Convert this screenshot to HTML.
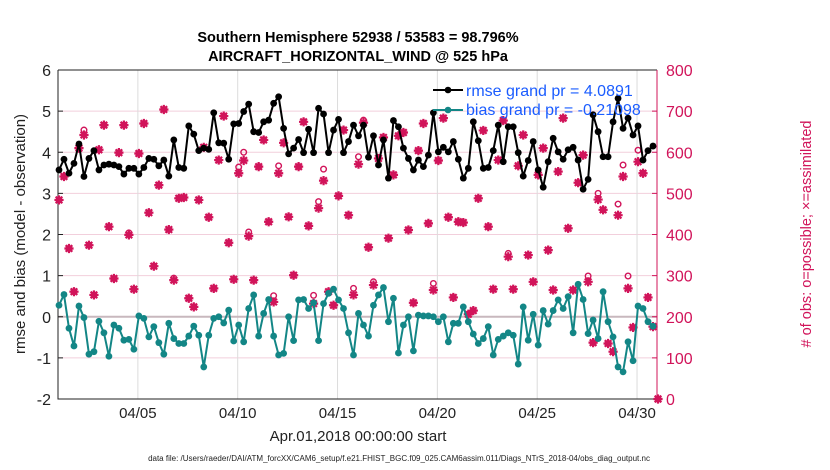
<!DOCTYPE html>
<html><head><meta charset="utf-8"><style>
body{margin:0;background:#fff;}
svg{display:block;font-family:"Liberation Sans",sans-serif;}
</style></head><body>
<svg id="chart" width="830" height="470" viewBox="0 0 830 470">
<text x="358" y="42" text-anchor="middle" font-size="14.5" font-weight="bold">Southern Hemisphere 52938 / 53583 = 98.796%</text>
<text x="358" y="61" text-anchor="middle" font-size="14.5" font-weight="bold">AIRCRAFT_HORIZONTAL_WIND @ 525 hPa</text>
<g id="grid"></g>
<g id="axes"></g>
<g id="obs"></g>
<g id="lines"></g>
<g id="legend">
<line x1="433" y1="90" x2="463" y2="90" stroke="#000" stroke-width="2"/>
<circle cx="448" cy="90" r="3.3" fill="#000"/>
<text x="466" y="96" font-size="16" fill="#1a5cff">rmse grand pr = 4.0891</text>
<line x1="433" y1="110" x2="463" y2="110" stroke="#138686" stroke-width="2"/>
<circle cx="448" cy="110" r="3.3" fill="#138686"/>
<text x="466" y="115" font-size="16" fill="#1a5cff">bias grand pr = -0.21098</text>
</g>
<text x="358" y="441" text-anchor="middle" font-size="15" fill="#222">Apr.01,2018 00:00:00 start</text>
<text x="399" y="461" text-anchor="middle" font-size="8" fill="#222">data file: /Users/raeder/DAI/ATM_forcXX/CAM6_setup/f.e21.FHIST_BGC.f09_025.CAM6assim.011/Diags_NTrS_2018-04/obs_diag_output.nc</text>
<text transform="translate(25,234) rotate(-90)" text-anchor="middle" font-size="15" fill="#222">rmse and bias (model - observation)</text>
<text transform="translate(811,234) rotate(-90)" text-anchor="middle" font-size="14.5" fill="#d1145a"># of obs: o=possible; ×=assimilated</text>
</svg>
<script>
const rmse=[3.57,3.83,3.49,3.73,4.2,3.41,3.85,4.04,3.57,3.69,3.71,3.69,3.65,3.47,3.61,3.61,3.47,3.63,3.85,3.83,3.67,3.81,3.42,4.3,3.63,3.61,4.64,4.44,4.04,4.1,4.07,4.96,4.23,4.22,3.83,4.69,4.7,4.99,5.17,
4.5,4.48,4.74,4.78,5.19,5.35,4.58,3.96,4.1,4.31,3.99,4.56,3.99,5.07,4.93,3.99,4.54,4.8,3.99,4.26,4.66,4.4,4.66,3.88,4.4,3.69,4.3,3.37,4.77,4.62,4.1,3.85,3.57,3.81,3.65,3.93,4.96,4.01,
4.12,4.01,4.26,3.83,3.37,3.61,4.74,4.28,3.61,3.63,4.04,4.66,3.77,4.62,4.62,3.99,3.42,3.8,4.26,3.57,3.15,3.77,4.34,4.01,3.83,4.06,4.12,3.81,3.1,3.34,4.91,4.5,3.89,3.89,4.74,5.31,4.58,4.83,4.42,4.64,3.81,4.04,4.15];
const bias=[0.28,0.54,-0.28,-0.71,0.26,-0.02,-0.91,-0.85,-0.11,-0.39,-0.96,-0.2,-0.28,-0.57,-0.55,-0.79,0.02,-0.04,-0.49,-0.24,-0.63,-0.91,-0.16,-0.53,-0.65,-0.65,-0.47,-0.23,-0.45,-1.22,-0.45,-0.04,0,-0.15,0.16,-0.59,-0.2,-0.61,0.2,
0.53,-0.47,0.08,0.42,-0.47,-0.93,-0.89,0,-0.58,0.41,0.42,0.2,0.34,-0.58,0.32,0.57,0.67,0.41,0.2,-0.39,-0.93,0.08,-0.2,-0.47,0.28,0.53,0.71,-0.12,0.45,-0.88,-0.2,0,-0.83,0.04,0.02,0.02,0,-0.12,
0,-0.61,-0.16,-0.16,0.24,-0.12,-0.42,-0.65,-0.53,-0.24,-0.93,-0.55,-0.47,-0.39,-0.45,-1.15,0.24,-0.57,0.06,-0.69,0.15,-0.18,0.15,0.41,0.2,0.49,-0.39,0.79,0.42,-0.41,-0.08,-0.53,0.61,-0.12,-0.49,-1.22,-1.34,-0.61,-1.07,0.26,0.2,-0.12,-0.23];
const assimilated=[484,541,366,261,610,642,374,253,606,666,419,293,599,666,399,267,597,670,453,323,520,704,412,289,488,490,245,224,484,612,442,269,581,688,380,291,549,580,396,
289,565,630,431,236,549,623,443,301,565,674,421,232,464,531,261,228,494,654,447,253,571,672,369,277,585,636,391,545,640,648,411,234,604,670,427,265,580,
683,442,247,431,429,206,215,488,653,419,267,581,677,346,267,567,642,350,285,545,610,362,265,553,683,415,265,526,593,285,137,485,460,135,115,447,541,269,174,577,549,247,176,0];
const possible=[484,541,366,261,610,654,374,253,606,666,419,293,599,666,404,267,597,670,453,323,520,704,412,294,488,490,245,224,484,612,442,269,581,688,380,291,564,600,406,
289,565,630,431,251,567,623,443,301,565,674,421,252,480,559,261,228,494,654,447,269,589,678,369,285,585,636,391,545,640,648,411,234,604,670,427,281,580,
683,442,247,431,429,206,215,488,653,419,267,581,677,354,267,567,642,350,285,545,610,362,265,553,683,415,265,526,593,299,137,500,460,135,115,474,569,299,174,605,549,247,176,0];
const xTickLabels=["04/05","04/10","04/15","04/20","04/25","04/30"];
const xTickDays=[4,9,14,19,24,29];
const leftTicks=[-2,-1,0,1,2,3,4,5,6];
const rightTicks=[0,100,200,300,400,500,600,700,800];

const NS="http://www.w3.org/2000/svg";
const X0=58,X1=657,Y0=399,Y1=70;
const xs=d=>X0+(d/30)*(X1-X0);
const yl=v=>Y0-(v+2)/8*(Y0-Y1);
const yr=c=>Y0-c/800*(Y0-Y1);
function mk(tag,attrs,parent){const e=document.createElementNS(NS,tag);for(const k in attrs)e.setAttribute(k,attrs[k]);parent.appendChild(e);return e;}
const grid=document.getElementById('grid'),axes=document.getElementById('axes'),obs=document.getElementById('obs'),lines=document.getElementById('lines');

leftTicks.forEach(v=>{
  if(v!==-2&&v!==6){const g=mk('line',{x1:X0,x2:X1,y1:yl(v),y2:yl(v),stroke:'#f2cfdc','stroke-width':1},grid);
  
  }
  const t=mk('line',{x1:X0,x2:X0+5,y1:yl(v),y2:yl(v),stroke:'#222'},axes);
  
  
  const l=mk('text',{x:X0-7,y:yl(v)+6,'text-anchor':'end','font-size':16,fill:'#222'},axes);
  l.textContent=v;
  
  
});
xTickDays.forEach((d,i)=>{
  const g=mk('line',{x1:xs(d),x2:xs(d),y1:Y1,y2:Y0,stroke:'#dcdcdc'},grid);
  
  
  const l=mk('text',{x:xs(d),y:418,'text-anchor':'middle','font-size':15,fill:'#222'},axes);
  l.textContent=xTickLabels[i];
  
  
});
rightTicks.forEach(c=>{
  const l=mk('text',{x:X1+9,y:yr(c)+6,'text-anchor':'start','font-size':16,fill:'#d1145a'},axes);
  l.textContent=c;
  
  
  const t=mk('line',{x1:X1-5,x2:X1,y1:yr(c),y2:yr(c),stroke:'#d1145a'},axes);
  
  
});
const zl=mk('line',{x1:X0,x2:X1,y1:yl(0),y2:yl(0),stroke:'#c8b8be','stroke-width':2},grid);


const frame=mk('path',{d:`M${X0},${Y1}L${X1},${Y1}M${X0},${Y1}L${X0},${Y0}L${X1},${Y0}`,stroke:'#222',fill:'none'},axes);


const ra=mk('line',{x1:X1,x2:X1,y1:Y1,y2:Y0,stroke:'#d1145a'},axes);



// obs counts
assimilated.forEach((c,i)=>{
  const d=i/4+0.05, x=xs(d);
  const pc=possible[i];
  const o=mk('circle',{cx:x,cy:yr(pc),r:2.8,fill:'none',stroke:'#d1145a','stroke-width':1.4},obs);
  
  
  const y=yr(c),s=4.6,q=3.3;
  const a=mk('path',{d:`M${x-s},${y}H${x+s}M${x},${y-s}V${y+s}M${x-q},${y-q}L${x+q},${y+q}M${x-q},${y+q}L${x+q},${y-q}`,stroke:'#d1145a','stroke-width':2.2},obs);
  
  
});

function series(vals,color,name){
  const pts=vals.map((v,i)=>[xs(i/4+0.05),yl(v)]);
  const p=mk('polyline',{points:pts.map(q=>q.join(',')).join(' '),fill:'none',stroke:color,'stroke-width':2},lines);
  
  
  pts.forEach(q=>{
    const c=mk('circle',{cx:q[0],cy:q[1],r:3.4,fill:color},lines);
    
    
  });
}
series(rmse,'#000','rmse');
series(bias,'#138686','bias');
</script>
</body></html>
